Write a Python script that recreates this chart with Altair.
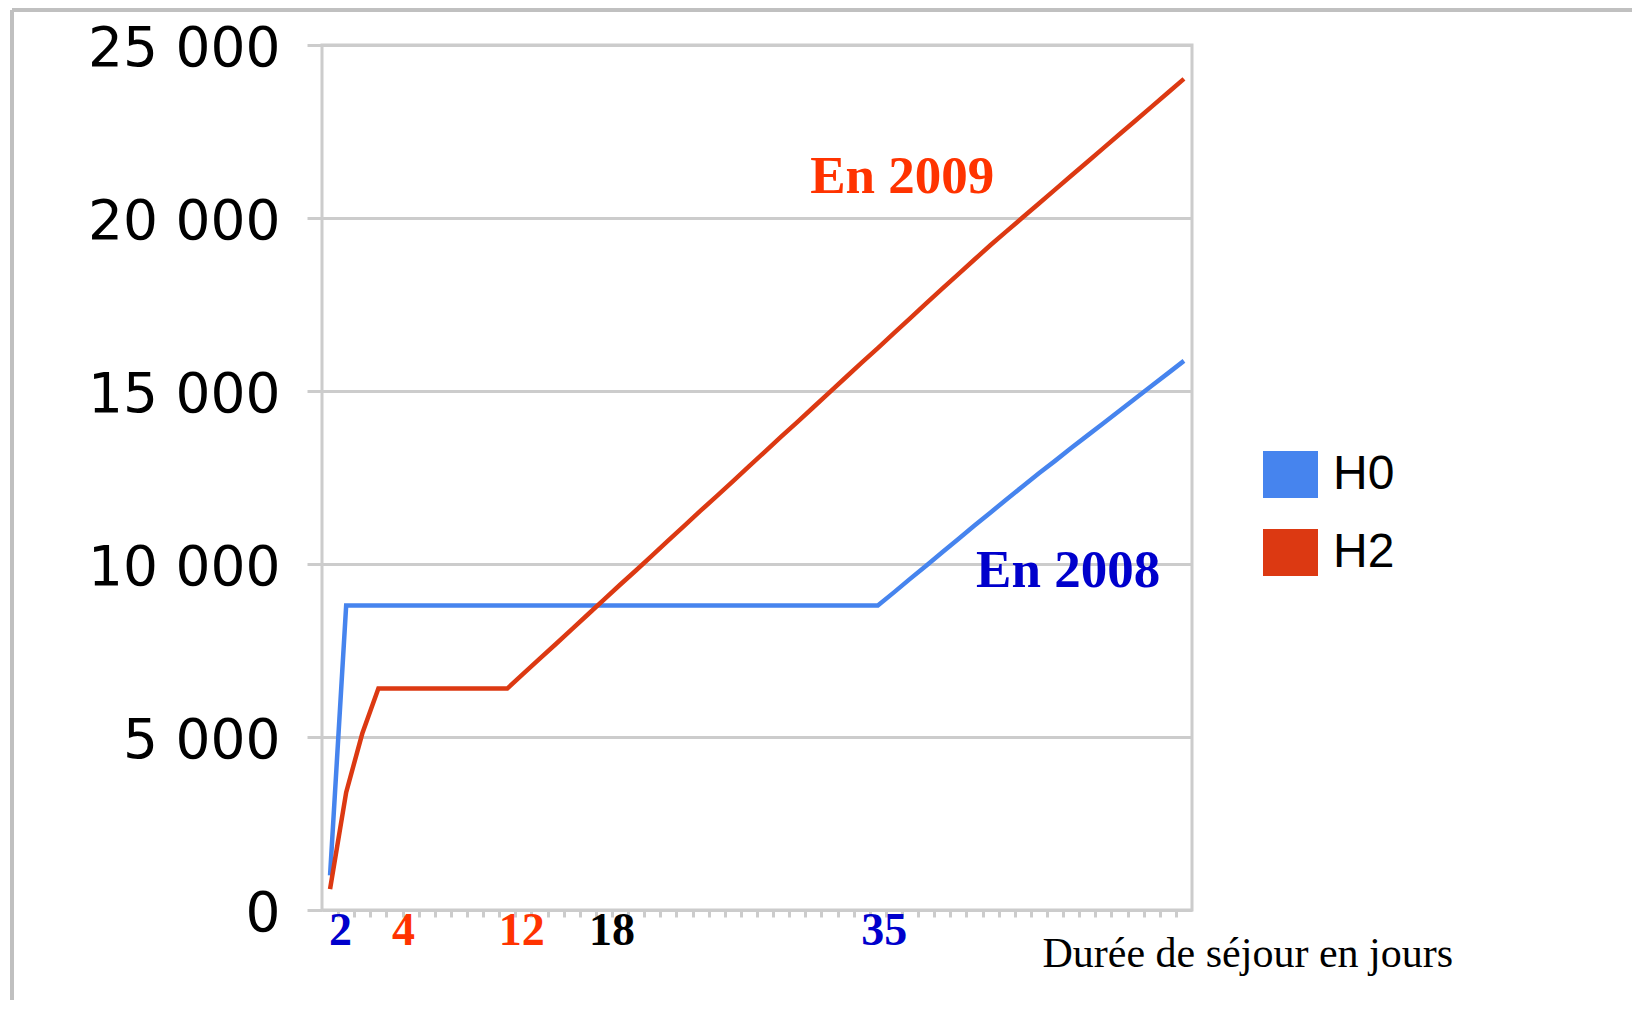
import altair as alt
import pandas as pd

# ---------------- data ----------------
days = list(range(1, 55))

h0 = [1000, 8800, 8800, 8800, 8800, 8800, 8800, 8800, 8800, 8800,
      8800, 8800, 8800, 8800, 8800, 8800, 8800, 8800, 8800, 8800,
      8800, 8800, 8800, 8800, 8800, 8800, 8800, 8800, 8800, 8800,
      8800, 8800, 8800, 8800, 8800, 9180, 9570, 9950, 10340, 10720,
      11110, 11490, 11870, 12250, 12620, 12980, 13350, 13710, 14070, 14430,
      14790, 15150, 15510, 15870]

h2 = [600, 3400, 5100, 6400, 6400, 6400, 6400, 6400, 6400, 6400,
      6400, 6400, 6830, 7260, 7680, 8110, 8540, 8970, 9400, 9820,
      10250, 10680, 11110, 11540, 11960, 12390, 12820, 13250, 13680, 14100,
      14530, 14960, 15390, 15820, 16240, 16670, 17100, 17530, 17960, 18380,
      18800, 19220, 19620, 20020, 20420, 20820, 21220, 21620, 22020, 22420,
      22820, 23220, 23620, 24020]

series_names = ["H0", "H2"]
series_colors = ["#4684EE", "#DC3912"]

y_ticks = [0, 5000, 10000, 15000, 20000, 25000]
x_minor_ticks = [d + 0.5 for d in range(1, 54)]

# annotated day labels under the axis
day_labels = ["2", "4", "12", "18", "35"]
day_label_pos = [1.65, 5.56, 12.9, 18.5, 35.4]
day_label_colors = ["#0000CC", "#FF3300", "#FF3300", "#000000", "#0000CC"]

# year annotations
year_texts = ["En 2009", "En 2008"]
year_days = [30.8, 41.1]
year_values = [20720, 9335]
year_colors = ["#FF3300", "#0000CC"]

x_title = "Durée de séjour en jours"

# ---------------- tables ----------------
lines_df = pd.DataFrame({
    "day": days * 2,
    "value": h0 + h2,
    "series": ["H0"] * len(days) + ["H2"] * len(days),
})
day_lab_df = pd.DataFrame({"label": day_labels, "day": day_label_pos,
                           "color": day_label_colors, "value": [0] * len(day_labels)})
year_df = pd.DataFrame({"text": year_texts, "day": year_days,
                        "value": year_values, "color": year_colors})

GRAY = "#CCCCCC"

x_scale = alt.Scale(domain=[0.5, 54.5], nice=False, zero=False)
y_scale = alt.Scale(domain=[0, 25000], nice=False)

legend_path = "M-1,-0.855L1,-0.855L1,0.855L-1,0.855Z"

lines = alt.Chart(lines_df).mark_line(strokeWidth=4.5).encode(
    x=alt.X("day:Q", scale=x_scale,
            axis=alt.Axis(values=x_minor_ticks, tickCount=100, labels=False, grid=False,
                          domain=False, tickSize=7, tickWidth=3, tickColor=GRAY,
                          title=x_title, titleFont="Liberation Serif", titleFontSize=42,
                          titleFontWeight="normal", titleColor="black",
                          titleAlign="left", titleBaseline="alphabetic",
                          titleX=720, titleY=56, titleAnchor="start")),
    y=alt.Y("value:Q", scale=y_scale,
            axis=alt.Axis(values=y_ticks, grid=True, gridColor=GRAY, gridWidth=3,
                          domain=False, tickSize=15, tickWidth=3, tickColor=GRAY,
                          labelFont="DejaVu Sans", labelFontSize=55, labelColor="black",
                          labelPadding=27, labelBaseline="middle", labelLimit=500,
                          labelOffset=3,
                          labelExpr="replace(format(datum.value, ','), ',', ' ')",
                          title=None)),
    color=alt.Color("series:N",
                    scale=alt.Scale(domain=series_names, range=series_colors),
                    legend=None),
)

# invisible points that carry the filled-square legend
legend_layer = alt.Chart(lines_df).mark_point(filled=True, size=0).encode(
    x=alt.X("day:Q", scale=x_scale),
    y=alt.Y("value:Q", scale=y_scale),
    fill=alt.Fill("series:N",
                  scale=alt.Scale(domain=series_names, range=series_colors),
                  legend=alt.Legend(orient="none", legendX=941, legendY=402, title=None,
                                    symbolType=legend_path, symbolSize=3025,
                                    symbolStrokeWidth=0, symbolOpacity=1,
                                    labelFont="Liberation Sans", labelFontSize=48,
                                    labelColor="black", labelOffset=15, rowPadding=26)),
)

day_text = alt.Chart(day_lab_df).mark_text(
    font="Liberation Serif", fontSize=46, fontWeight="bold",
    align="center", baseline="alphabetic", dy=35
).encode(
    x=alt.X("day:Q", scale=x_scale),
    y=alt.Y("value:Q", scale=y_scale),
    text="label:N",
    color=alt.Color("color:N", scale=None),
)

year_text = alt.Chart(year_df).mark_text(
    font="Liberation Serif", fontSize=53, fontWeight="bold",
    align="left", baseline="alphabetic"
).encode(
    x=alt.X("day:Q", scale=x_scale),
    y=alt.Y("value:Q", scale=y_scale),
    text="text:N",
    color=alt.Color("color:N", scale=None),
)

# slide frame decoration
frame_top = alt.Chart(pd.DataFrame({"k": [0]})).mark_rule(color="#C0C0C0", strokeWidth=4).encode(
    x=alt.value(-310), x2=alt.value(1320), y=alt.value(-35))
frame_left = alt.Chart(pd.DataFrame({"k": [0]})).mark_rule(color="#C0C0C0", strokeWidth=4).encode(
    x=alt.value(-310), y=alt.value(-35), y2=alt.value(960))

chart = alt.layer(frame_top, frame_left, lines, legend_layer, day_text, year_text).resolve_scale(
    color="independent", fill="independent"
).properties(
    width=870, height=865,
    autosize=alt.AutoSizeParams(type="none"),
    padding={"left": 314, "top": 37, "right": 440, "bottom": 90},
).configure_view(stroke=GRAY, strokeWidth=3)

chart.save("out.html", embed_options={"renderer": "svg", "actions": False})
